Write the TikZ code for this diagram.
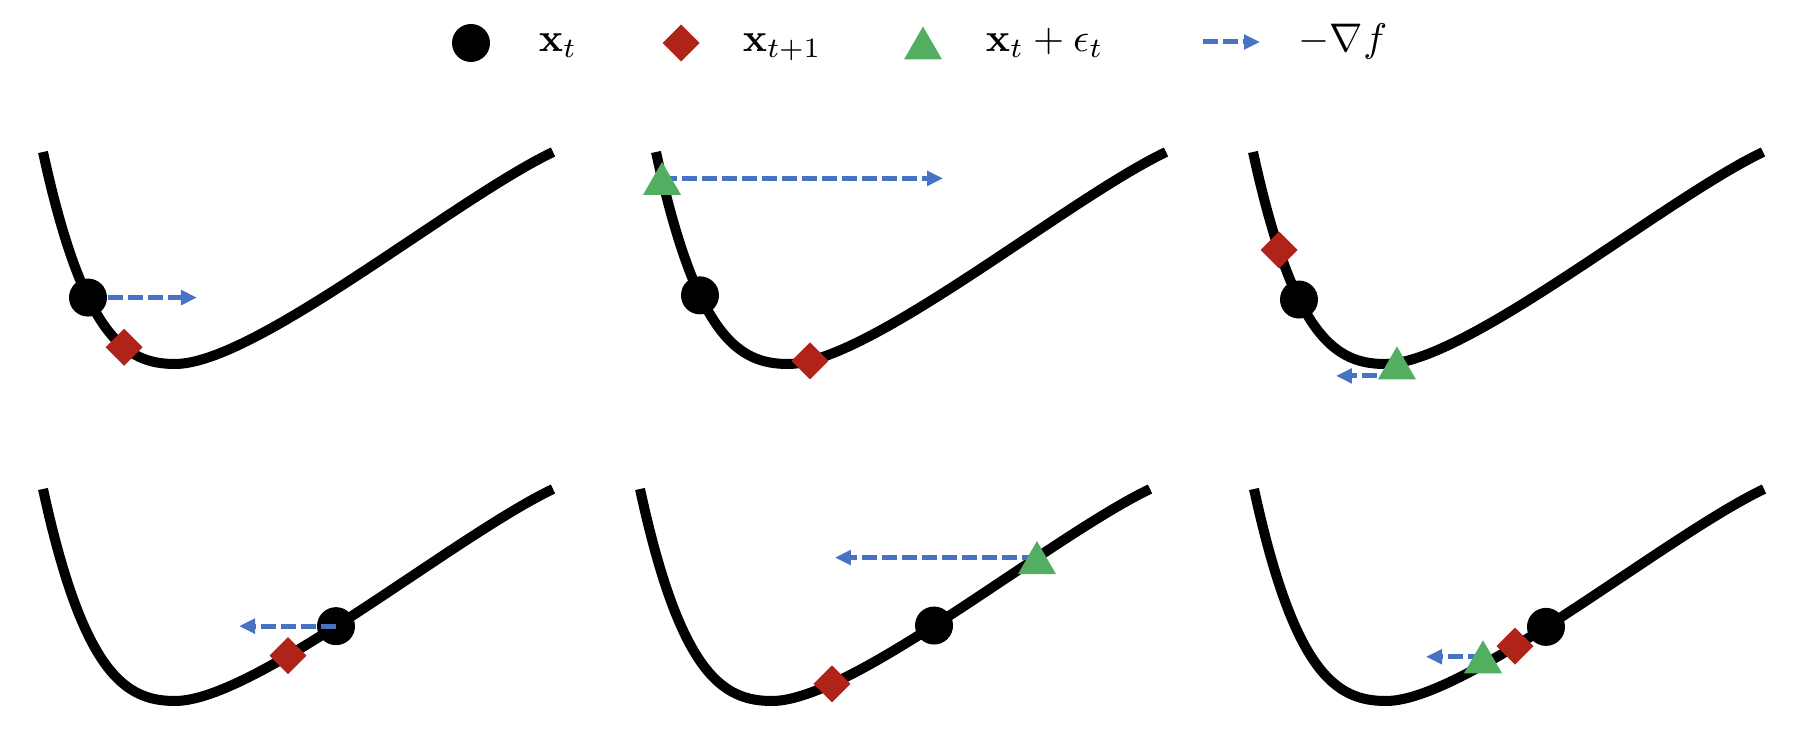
\documentclass[tikz,border=0pt]{standalone}
\usetikzlibrary{arrows.meta,shapes.geometric,intersections,calc}
\definecolor{mred}{RGB}{175,35,25}
\definecolor{mgreen}{RGB}{82,174,96}
\definecolor{mblue}{RGB}{72,114,196}
\tikzset{
  curve/.style={line width=2.5pt, black},
  dotm/.style={circle, fill=black, minimum size=9.5pt, inner sep=0pt},
  diam/.style={diamond, fill=mred, minimum width=9.25pt, minimum height=9.25pt, inner sep=0pt, outer sep=0pt},
  grad/.style={mblue, line width=1.25pt, dash pattern=on 3.75pt off 1.25pt, -{Triangle[length=4pt,width=3.6pt]}},
  lab/.style={anchor=base west, inner sep=0pt, font=\normalsize},
}
\newcommand\landscape[1]{\draw[curve,name path=#1] (0,0) .. controls (40,184) and (82,212) .. (132,212) .. controls (212,212) and (410,48) .. (510,0);}
\newcommand\oncurve[3]{\path[name path=vl#1] (#3,-80) -- (#3,320); \path[name intersections={of=#2 and vl#1, by={#1}}];}
\newcommand\trimark[1]{\fill[mgreen] ($(#1)+(0,-16.5)$) -- ($(#1)+(-19,16.5)$) -- ($(#1)+(19,16.5)$) -- cycle;}
\begin{document}
\begin{tikzpicture}[x=0.25pt,y=-0.25pt]
\useasboundingbox (0,0) rectangle (1812,748);
% legend
\node[dotm] (ldot) at (471,43) {};
\node[lab] (ltxt1) at (538,52) {$\mathbf{x}_t$};
\node[diam] (ldia) at (681,43) {};
\node[lab] (ltxt2) at (742,52) {$\mathbf{x}_{t+1}$};
\coordinate (ltri) at (923,43);
\trimark{ltri}
\node[lab] (ltxt3) at (985,52) {$\mathbf{x}_t+\epsilon_t$};
\coordinate (la) at (1203,42);
\coordinate (lb) at (1260,42);
\draw[grad] (la) -- (lb);
\node[lab] (ltxt4) at (1298,52) {$-\nabla f$};
% panel 1
\begin{scope}[shift={(43,152)}]
  \landscape{c1}
  \oncurve{p1x}{c1}{45}
  \oncurve{p1y}{c1}{81}
  \coordinate (p1e) at ($(p1x)+(109,0)$);
  \draw[grad] (p1x) -- (p1e);
  \node[dotm] (n1x) at (p1x) {};
  \node[diam] (n1y) at (p1y) {};
\end{scope}
% panel 2
\begin{scope}[shift={(656,152)}]
  \landscape{c2}
  \oncurve{p2x}{c2}{44}
  \oncurve{p2y}{c2}{154}
  \oncurve{p2z}{c2}{6}
  \coordinate (p2e) at ($(p2z)+(281,0)$);
  \draw[grad] (p2z) -- (p2e);
  \node[dotm] (n2x) at (p2x) {};
  \node[diam] (n2y) at (p2y) {};
  \trimark{p2z}
\end{scope}
% panel 3
\begin{scope}[shift={(1253,152)}]
  \landscape{c3}
  \oncurve{p3x}{c3}{46}
  \oncurve{p3y}{c3}{26}
  \oncurve{p3z}{c3}{144}
  \coordinate (p3s) at ($(p3z)+(0,13)$);
  \coordinate (p3e) at ($(p3s)+(-61,0)$);
  \draw[grad] (p3s) -- (p3e);
  \node[dotm] (n3x) at (p3x) {};
  \node[diam] (n3y) at (p3y) {};
  \trimark{p3z}
\end{scope}
% panel 4
\begin{scope}[shift={(43,489)}]
  \landscape{c4}
  \oncurve{p4x}{c4}{293}
  \oncurve{p4y}{c4}{245}
  \coordinate (p4e) at ($(p4x)+(-97,0)$);
  \node[dotm] (n4x) at (p4x) {};
  \node[diam] (n4y) at (p4y) {};
  \draw[grad] (p4x) -- (p4e);
\end{scope}
% panel 5
\begin{scope}[shift={(640,489)}]
  \landscape{c5}
  \oncurve{p5x}{c5}{294}
  \oncurve{p5y}{c5}{192}
  \oncurve{p5z}{c5}{397}
  \coordinate (p5e) at ($(p5z)+(-202,0)$);
  \draw[grad] (p5z) -- (p5e);
  \node[dotm] (n5x) at (p5x) {};
  \node[diam] (n5y) at (p5y) {};
  \trimark{p5z}
\end{scope}
% panel 6
\begin{scope}[shift={(1254,489)}]
  \landscape{c6}
  \oncurve{p6x}{c6}{292}
  \oncurve{p6y}{c6}{261}
  \oncurve{p6c}{c6}{229}
  \coordinate (p6z) at ($(p6c)+(0,-8)$);
  \coordinate (p6e) at ($(p6z)+(-57,0)$);
  \draw[grad] (p6z) -- (p6e);
  \node[dotm] (n6x) at (p6x) {};
  \node[diam] (n6y) at (p6y) {};
  \trimark{p6z}
\end{scope}
\end{tikzpicture}
\end{document}
